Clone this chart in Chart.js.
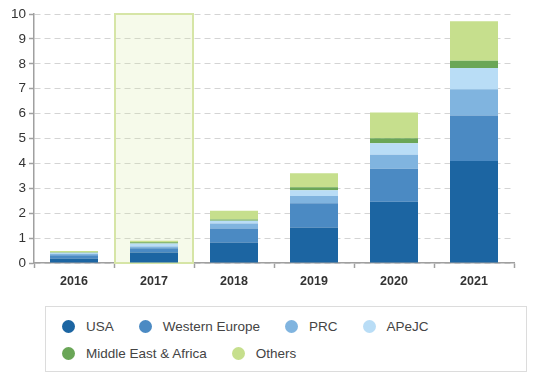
<!DOCTYPE html>
<html>
<head>
<meta charset="utf-8">
<script src="https://cdn.jsdelivr.net/npm/chart.js@4/dist/chart.umd.min.js"></script>
<style>
  html, body { margin: 0; padding: 0; background: #fff; }
  #wrap { position: relative; width: 538px; height: 377px; font-family: "Liberation Sans", Arial, sans-serif; }
  #chart-box { position: absolute; left: 0; top: 0; width: 538px; height: 300px; }
  #legend {
    position: absolute; left: 45px; top: 306px; width: 464px; height: 46px;
    border: 1px solid #dcdcdc; padding: 9px 8px; box-sizing: content-box;
    display: flex; flex-wrap: wrap; align-content: flex-start; row-gap: 7px;
  }
  .lg-item { display: flex; align-items: center; height: 20px; margin-right: 17px; font-size: 13.5px; color: #444; }
  .lg-dot { width: 13px; height: 13px; border-radius: 50%; margin: 0 11px 0 8px; }
</style>
</head>
<body>
<div id="wrap">
  <div id="chart-box"><canvas id="chart" width="538" height="300"></canvas></div>
  <div id="legend"></div>
</div>
<script>
// 数据
const years = ['2016', '2017', '2018', '2019', '2020', '2021']
const highlightYear = '2017'
const yTicks = [0, 1, 2, 3, 4, 5, 6, 7, 8, 9, 10]

const usa           = [0.18, 0.42, 0.82, 1.43, 2.46, 4.10]
const westernEurope = [0.13, 0.17, 0.57, 0.97, 1.33, 1.82]
const prc           = [0.06, 0.07, 0.20, 0.29, 0.56, 1.06]
const apejc         = [0.04, 0.12, 0.11, 0.23, 0.46, 0.85]
const mea           = [0.02, 0.05, 0.05, 0.12, 0.20, 0.29]
const others        = [0.05, 0.06, 0.35, 0.56, 1.03, 1.59]

const seriesNames  = ['USA', 'Western Europe', 'PRC', 'APeJC', 'Middle East & Africa', 'Others']
const seriesValues = [usa, westernEurope, prc, apejc, mea, others]
const seriesColors = ['#1c65a2', '#4b8ac3', '#80b4df', '#b9ddf6', '#6aa657', '#c6df8d']

// 高亮某一年的背景框
const highlightPlugin = {
  id: 'highlight',
  beforeDatasetsDraw(chart) {
    const x = chart.scales.x
    const idx = years.indexOf(highlightYear)
    if (idx < 0) return
    const half = (x.getPixelForValue(1) - x.getPixelForValue(0)) / 2
    const cx = x.getPixelForValue(idx)
    const { top, bottom } = chart.chartArea
    const ctx = chart.ctx
    ctx.save()
    ctx.fillStyle = 'rgba(214, 232, 160, 0.22)'
    ctx.fillRect(cx - half, top, half * 2, bottom - top)
    ctx.strokeStyle = '#d6e5a6'
    ctx.lineWidth = 2
    ctx.strokeRect(cx - half + 1, top, half * 2 - 2, bottom - top)
    ctx.restore()
  }
}

const chart = new Chart(document.getElementById('chart'), {
  type: 'bar',
  data: {
    labels: years,
    datasets: seriesNames.map((name, i) => ({
      label: name,
      data: seriesValues[i],
      backgroundColor: seriesColors[i],
      borderWidth: 0,
      categoryPercentage: 1,
      barPercentage: 0.6
    }))
  },
  options: {
    responsive: false,
    animation: false,
    layout: { padding: { top: 14, right: 24, left: 0, bottom: 0 } },
    plugins: {
      legend: { display: false },
      tooltip: { enabled: false }
    },
    scales: {
      x: {
        stacked: true,
        afterFit: s => { s.height = 37 },
        grid: { offset: true, drawOnChartArea: false, tickLength: 5, tickColor: '#a0a0a0', tickWidth: 1.5 },
        border: { color: '#a0a0a0', width: 1.5 },
        ticks: { color: '#333', padding: 6, font: { family: '"Liberation Sans", Arial, sans-serif', size: 12.5, weight: 'bold' } }
      },
      y: {
        stacked: true,
        min: 0,
        max: 10,
        afterFit: s => { s.width = 34 },
        afterBuildTicks: s => { s.ticks = yTicks.map(v => ({ value: v })) },
        grid: { color: '#d4d4d4', lineWidth: 1, tickLength: 5, tickColor: '#a0a0a0', tickWidth: 1.5 },
        border: { color: '#a0a0a0', width: 1.5, dash: [6, 4] },
        ticks: { color: '#333', padding: 3, font: { family: '"Liberation Sans", Arial, sans-serif', size: 13.5 } }
      }
    }
  },
  plugins: [highlightPlugin]
})

// 自定义图例
document.getElementById('legend').innerHTML = seriesNames.map((name, i) => `
  <div class="lg-item"><div class="lg-dot" style="background:${seriesColors[i]}"></div><span>${name}</span></div>
`).join('')
</script>
</body>
</html>
